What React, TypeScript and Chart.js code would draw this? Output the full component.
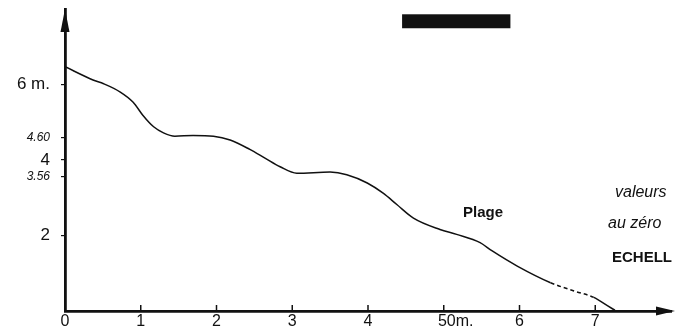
import { useEffect, useRef } from 'react';
import { Chart, registerables } from 'chart.js';

Chart.register(...registerables);

// Profile of the beach: distance (x10 m) vs height (m)
const distances = [0, 0.37, 0.51, 0.73, 0.9, 1.03, 1.17, 1.3, 1.45, 1.69, 1.96, 2.18, 2.44, 2.64, 2.84, 3.06, 3.5, 3.72, 3.99, 4.2, 4.38, 4.6, 4.95, 5.17, 5.48, 5.64, 5.97, 6.41, 6.72, 6.98, 7.16, 7.26];
const heights = [6.47, 6.12, 6.02, 5.8, 5.53, 5.18, 4.88, 4.72, 4.63, 4.65, 4.63, 4.53, 4.28, 4.05, 3.82, 3.65, 3.68, 3.61, 3.39, 3.12, 2.82, 2.46, 2.16, 2.03, 1.81, 1.59, 1.19, 0.75, 0.53, 0.36, 0.14, 0.02];

const xTickValues = [0, 1, 2, 3, 4, 5, 6, 7];
const xTickLabels = ['0', '1', '2', '3', '4', '\u2002\u2002\u200250m.', '6', '7'];
const yTickValues = [2, 3.56, 4, 4.6, 6];
const yTickLabels = ['2', '3.56', '4', '4.60', '6 m.'];
const ySmallLabels = ['3.56', '4.60'];

const dashStart = 6.4;
const dashEnd = 7.05;

const noteTexts = ['Plage', 'valeurs', 'au zéro', 'ECHELL'];

const FONT = "'Liberation Sans', Arial, sans-serif";

const decorPlugin = {
  id: 'decor',
  afterDraw(chart: any) {
    const ctx = chart.ctx;
    const xs = chart.scales.x;
    const ys = chart.scales.y;
    const x0 = xs.getPixelForValue(0);
    const y0 = ys.getPixelForValue(0);
    const yTop = ys.getPixelForValue(8);
    const xEnd = xs.getPixelForValue(8);
    ctx.save();
    ctx.fillStyle = '#111';
    ctx.strokeStyle = '#111';
    // y arrow
    ctx.beginPath();
    ctx.moveTo(x0, yTop);
    ctx.lineTo(x0 - 4.5, yTop + 23);
    ctx.lineTo(x0 + 4.5, yTop + 23);
    ctx.closePath();
    ctx.fill();
    // x arrow
    ctx.beginPath();
    ctx.moveTo(xEnd + 4, y0);
    ctx.lineTo(xEnd - 15, y0 - 4.5);
    ctx.lineTo(xEnd - 15, y0 + 4.5);
    ctx.closePath();
    ctx.fill();
    // x tick marks (upward)
    ctx.lineWidth = 1.5;
    xTickValues.slice(1).forEach((v) => {
      const px = xs.getPixelForValue(v);
      ctx.beginPath();
      ctx.moveTo(px, y0);
      ctx.lineTo(px, y0 - 6);
      ctx.stroke();
    });
    // black bar at top
    const bx1 = xs.getPixelForValue(4.45);
    const bx2 = xs.getPixelForValue(5.88);
    const by1 = ys.getPixelForValue(7.86);
    const by2 = ys.getPixelForValue(7.49);
    ctx.fillRect(bx1, by1, bx2 - bx1, by2 - by1);
    // notes
    ctx.textAlign = 'left';
    ctx.textBaseline = 'alphabetic';
    ctx.font = `bold 15px ${FONT}`;
    ctx.fillText(noteTexts[0], 463, 217);
    ctx.font = `italic 16px ${FONT}`;
    ctx.fillText(noteTexts[1], 615, 197);
    ctx.fillText(noteTexts[2], 608, 228);
    ctx.font = `bold 15px ${FONT}`;
    ctx.fillText(noteTexts[3], 612, 262);
    ctx.restore();
  },
};

export default function App() {
  const ref = useRef<HTMLCanvasElement | null>(null);
  useEffect(() => {
    if (!ref.current) return;
    const chart = new Chart(ref.current, {
      type: 'line',
      data: {
        datasets: [
          {
            data: distances.map((d, i) => ({ x: d, y: heights[i] })),
            borderColor: '#111',
            borderWidth: 1.5,
            pointRadius: 0,
            fill: false,
            cubicInterpolationMode: 'monotone',
            segment: {
              borderDash: (c: any) =>
                c.p0.parsed.x >= dashStart && c.p1.parsed.x <= dashEnd ? [4, 3] : undefined,
            },
          },
        ],
      },
      options: {
        responsive: false,
        animation: false,
        events: [],
        layout: { padding: { top: 9, right: 5, left: 0, bottom: 0 } },
        plugins: { legend: { display: false }, tooltip: { enabled: false } },
        scales: {
          x: {
            type: 'linear',
            min: 0,
            max: 8,
            afterBuildTicks: (s: any) => {
              s.ticks = xTickValues.map((v) => ({ value: v }));
            },
            afterFit: (s: any) => {
              s.height = 17;
              s.paddingLeft = 0;
              s.paddingRight = 0;
            },
            grid: { display: false, drawTicks: false },
            border: { display: true, color: '#111', width: 2.8 },
            ticks: {
              autoSkip: false,
              maxRotation: 0,
              padding: 1,
              color: '#111',
              font: { family: FONT, size: 16 },
              callback: (v: any) => {
                const i = xTickValues.indexOf(Number(v));
                return i >= 0 ? xTickLabels[i] : '';
              },
            },
          },
          y: {
            type: 'linear',
            min: 0,
            max: 8,
            afterBuildTicks: (s: any) => {
              s.ticks = yTickValues.map((v) => ({ value: v }));
            },
            afterFit: (s: any) => {
              s.width = 65;
              s.paddingTop = 0;
              s.paddingBottom = 0;
            },
            grid: {
              display: true,
              drawOnChartArea: false,
              drawTicks: true,
              tickLength: 4,
              color: '#111',
              lineWidth: 1.2,
            },
            border: { display: true, color: '#111', width: 2.8 },
            ticks: {
              autoSkip: false,
              padding: 11,
              color: '#111',
              font: (c: any) => {
                const i = yTickValues.indexOf(c.tick ? c.tick.value : -1);
                const lbl = i >= 0 ? yTickLabels[i] : '';
                return ySmallLabels.includes(lbl)
                  ? { family: FONT, size: 12, style: 'italic' }
                  : { family: FONT, size: 17 };
              },
              callback: (v: any) => {
                const i = yTickValues.indexOf(Number(v));
                return i >= 0 ? yTickLabels[i] : '';
              },
            },
          },
        },
      },
      plugins: [decorPlugin],
    } as any);
    return () => chart.destroy();
  }, []);
  return (
    <div style={{ position: 'absolute', left: 0, top: 0, width: 676, height: 328, background: '#fff' }}>
      <canvas ref={ref} width={676} height={328} style={{ display: 'block' }} />
    </div>
  );
}
